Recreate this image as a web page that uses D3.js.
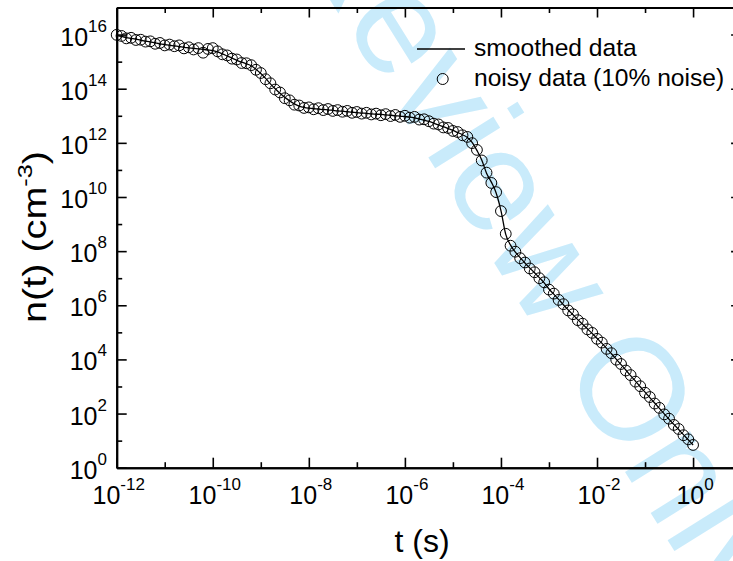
<!DOCTYPE html>
<html>
<head>
<meta charset="utf-8">
<script src="https://cdn.jsdelivr.net/npm/d3@7"></script>
<style>
  html, body { margin: 0; padding: 0; background: #fff; }
  svg { display: block; font-family: "Liberation Sans", Arial, sans-serif; }
</style>
</head>
<body>
<div id="chart"></div>
<script>
// log10 of t (s)
const tExp = [
  -12.0, -11.9, -11.8, -11.7, -11.6, -11.5, -11.4, -11.3, -11.2, -11.1,
  -11.0, -10.9, -10.8, -10.7, -10.6, -10.5, -10.4, -10.3, -10.2, -10.1,
  -10.0, -9.9, -9.8, -9.7, -9.6, -9.5, -9.4, -9.3, -9.2, -9.1,
  -9.0, -8.9, -8.8, -8.7, -8.6, -8.5, -8.4, -8.3, -8.2, -8.1,
  -8.0, -7.9, -7.8, -7.7, -7.6, -7.5, -7.4, -7.3, -7.2, -7.1,
  -7.0, -6.9, -6.8, -6.7, -6.6, -6.5, -6.4, -6.3, -6.2, -6.1,
  -6.0, -5.9, -5.8, -5.7, -5.6, -5.5, -5.4, -5.3, -5.2, -5.1,
  -5.0, -4.9, -4.8, -4.7, -4.6, -4.5, -4.4, -4.3, -4.2, -4.1,
  -4.0, -3.9, -3.8, -3.7, -3.6, -3.5, -3.4, -3.3, -3.2, -3.1,
  -3.0, -2.9, -2.8, -2.7, -2.6, -2.5, -2.4, -2.3, -2.2, -2.1,
  -2.0, -1.9, -1.8, -1.7, -1.6, -1.5, -1.4, -1.3, -1.2, -1.1,
  -1.0, -0.9, -0.8, -0.7, -0.6, -0.5, -0.4, -0.3, -0.2, -0.1,
  0.0
];

// log10 of n (cm^-3), smoothed curve
const smoothExp = [
  15.96, 15.93, 15.89, 15.86, 15.83, 15.79, 15.76, 15.73, 15.69, 15.66,
  15.63, 15.61, 15.58, 15.56, 15.53, 15.51, 15.49, 15.47, 15.45, 15.43,
  15.41, 15.36, 15.29, 15.21, 15.13, 15.05, 14.98, 14.92, 14.85, 14.72,
  14.56, 14.38, 14.18, 14.00, 13.83, 13.68, 13.55, 13.44, 13.36, 13.31,
  13.28, 13.26, 13.25, 13.23, 13.22, 13.20, 13.18, 13.17, 13.15, 13.13,
  13.12, 13.10, 13.09, 13.07, 13.06, 13.05, 13.03, 13.02, 13.00, 12.99,
  12.97, 12.95, 12.92, 12.88, 12.84, 12.79, 12.73, 12.66, 12.60, 12.53,
  12.46, 12.38, 12.30, 12.20, 12.02, 11.72, 11.37, 10.88, 10.55, 10.15,
  9.50, 8.62, 8.22, 7.96, 7.76, 7.56, 7.38, 7.20, 7.02, 6.83,
  6.60, 6.41, 6.22, 6.02, 5.83, 5.65, 5.47, 5.30, 5.13, 4.96,
  4.78, 4.60, 4.41, 4.21, 4.01, 3.81, 3.61, 3.40, 3.20, 2.99,
  2.79, 2.59, 2.39, 2.19, 1.99, 1.79, 1.60, 1.41, 1.22, 1.03,
  0.84
];

// log10 of n (cm^-3), noisy points
const noisyExp = [
  15.99, 15.95, 15.86, 15.88, 15.80, 15.81, 15.74, 15.75, 15.66, 15.69,
  15.60, 15.63, 15.57, 15.60, 15.49, 15.53, 15.45, 15.50, 15.33, 15.47,
  15.50, 15.38, 15.27, 15.23, 15.11, 15.08, 14.95, 14.94, 14.87, 14.70,
  14.58, 14.35, 14.20, 13.97, 13.86, 13.65, 13.57, 13.41, 13.38, 13.29,
  13.31, 13.24, 13.28, 13.21, 13.25, 13.18, 13.21, 13.15, 13.18, 13.11,
  13.14, 13.08, 13.11, 13.05, 13.08, 13.02, 13.06, 12.99, 13.03, 12.96,
  13.00, 12.93, 12.96, 12.86, 12.87, 12.80, 12.71, 12.68, 12.57, 12.55,
  12.44, 12.40, 12.28, 12.22, 11.99, 11.74, 11.35, 10.90, 10.52, 10.18,
  9.48, 8.64, 8.20, 7.98, 7.74, 7.58, 7.36, 7.22, 7.00, 6.85,
  6.58, 6.43, 6.20, 6.04, 5.81, 5.67, 5.45, 5.32, 5.11, 4.98,
  4.76, 4.62, 4.39, 4.23, 3.99, 3.83, 3.59, 3.42, 3.18, 3.01,
  2.77, 2.61, 2.37, 2.21, 1.97, 1.81, 1.58, 1.43, 1.20, 1.05,
  0.84
];

const xMajorExp = [-12, -10, -8, -6, -4, -2, 0];
const xMinorExp = [-11, -9, -7, -5, -3, -1, 1];
const yMajorExp = [0, 2, 4, 6, 8, 10, 12, 14, 16];
const yMinorExp = [1, 3, 5, 7, 9, 11, 13, 15];

const legendLabels = ["smoothed data", "noisy data (10% noise)"];

const width = 733, height = 561;
const plotLeft = 116.7, plotRight = 741.1, plotTop = 7.5, plotBottom = 467.7;

const svg = d3.select("#chart").append("svg")
  .attr("width", width)
  .attr("height", height);

const x = d3.scaleLog().domain([1e-12, 1e1]).range([plotLeft, plotRight]);
const y = d3.scaleLog().domain([1, 1e17]).range([plotBottom, plotTop]);

const pow = e => Math.pow(10, e);

// watermark
svg.append("text")
  .attr("transform", "translate(150,-288) rotate(58)")
  .style("font-size", "145px")
  .style("fill", "#c9ebfb")
  .text("For Review Only");

// axes
function addAxis(axisFn, scale, exps, size, transform) {
  const g = svg.append("g")
    .attr("transform", transform)
    .call(axisFn(scale).tickValues(exps.map(pow)).tickSize(size).tickSizeOuter(0).tickFormat(""));
  g.selectAll(".tick line").attr("stroke", "#000").attr("stroke-width", 1.6);
  g.select(".domain").attr("stroke", "#000").attr("stroke-width", 2);
  return g;
}

addAxis(d3.axisBottom, x, xMajorExp, -10, `translate(0,${plotBottom})`);
addAxis(d3.axisBottom, x, xMinorExp, -5.5, `translate(0,${plotBottom})`);
addAxis(d3.axisTop, x, xMajorExp, -10, `translate(0,${plotTop})`);
addAxis(d3.axisTop, x, xMinorExp, -5.5, `translate(0,${plotTop})`);
addAxis(d3.axisLeft, y, yMajorExp, -10, `translate(${plotLeft},0)`);
addAxis(d3.axisLeft, y, yMinorExp, -5.5, `translate(${plotLeft},0)`);
addAxis(d3.axisRight, y, yMajorExp, -10, `translate(${plotRight},0)`);
addAxis(d3.axisRight, y, yMinorExp, -5.5, `translate(${plotRight},0)`);

// tick labels with superscripts
const xl = svg.selectAll(".xlab").data(xMajorExp).enter().append("text")
  .attr("class", "xlab")
  .attr("x", d => x(pow(d)) + 2)
  .attr("y", 504)
  .attr("text-anchor", "middle")
  .style("font-size", "25px");
xl.append("tspan").text("10");
xl.append("tspan").attr("dy", -14).style("font-size", "17px").text(d => d);

const yl = svg.selectAll(".ylab").data(yMajorExp).enter().append("text")
  .attr("class", "ylab")
  .attr("x", 107)
  .attr("y", d => y(pow(d)) + 11)
  .attr("text-anchor", "end")
  .style("font-size", "25px");
yl.append("tspan").text("10");
yl.append("tspan").attr("dy", -14).style("font-size", "17px").text(d => d);

// axis titles
svg.append("text")
  .attr("x", 422)
  .attr("y", 552)
  .attr("text-anchor", "middle")
  .style("font-size", "32px")
  .text("t (s)");

const yt = svg.append("text")
  .attr("transform", "translate(46,237) rotate(-90) scale(1.2,1)")
  .attr("text-anchor", "middle")
  .style("font-size", "33px");
yt.append("tspan").text("n(t) (cm");
yt.append("tspan").attr("dy", -14).style("font-size", "21px").text("-3");
yt.append("tspan").attr("dy", 14).text(")");

// data
const pts = tExp.map((t, i) => ({t: pow(t), s: pow(smoothExp[i]), n: pow(noisyExp[i])}));

svg.append("path")
  .datum(pts)
  .attr("fill", "none")
  .attr("stroke", "#000")
  .attr("stroke-width", 1.3)
  .attr("d", d3.line().x(d => x(d.t)).y(d => y(d.s)).curve(d3.curveMonotoneX));

svg.selectAll(".pt").data(pts).enter().append("circle")
  .attr("class", "pt")
  .attr("cx", d => x(d.t))
  .attr("cy", d => y(d.n))
  .attr("r", 5.4)
  .attr("fill", "none")
  .attr("stroke", "#000")
  .attr("stroke-width", 1);

// legend
svg.append("line")
  .attr("x1", 417).attr("x2", 465)
  .attr("y1", 49).attr("y2", 49)
  .attr("stroke", "#000").attr("stroke-width", 1.3);
svg.append("circle")
  .attr("cx", 442.7).attr("cy", 79).attr("r", 5.5)
  .attr("fill", "none").attr("stroke", "#000").attr("stroke-width", 1);
svg.selectAll(".leg").data(legendLabels).enter().append("text")
  .attr("class", "leg")
  .attr("x", 474)
  .attr("y", (d, i) => 56 + i * 30)
  .style("font-size", "24.6px")
  .text(d => d);
</script>
</body>
</html>
